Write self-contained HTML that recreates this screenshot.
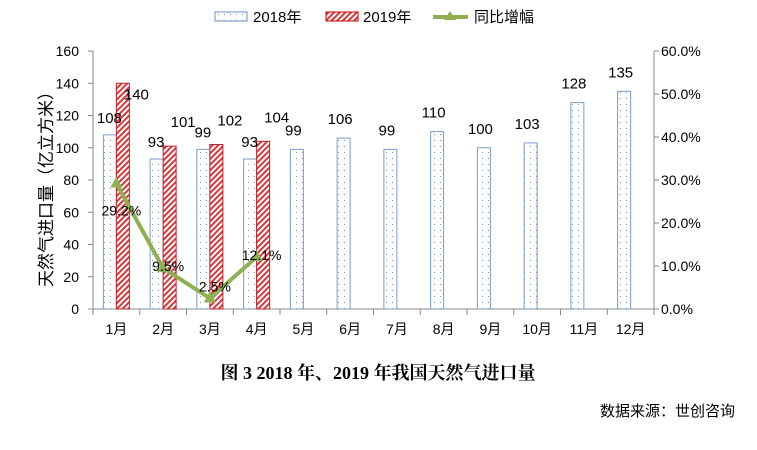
<!DOCTYPE html>
<html><head><meta charset="utf-8"><style>
body{margin:0;background:#fff;}
svg text{font-family:"Liberation Sans","Noto Sans CJK SC",sans-serif;}
</style></head><body>
<svg width="757" height="445" xmlns="http://www.w3.org/2000/svg">
<defs>
<pattern id="dots" width="6" height="6" patternUnits="userSpaceOnUse"><rect width="6" height="6" fill="#fff"/><rect x="2" y="2" width="1" height="1" fill="#7f95b4"/></pattern>
<pattern id="hatch" width="4" height="4" patternUnits="userSpaceOnUse" patternTransform="rotate(45)"><rect width="4" height="4" fill="#fff"/><rect width="2" height="4" fill="#d9383a"/></pattern>
</defs>
<g id="legend">
<rect x="215" y="12" width="32" height="9" fill="url(#dots)" stroke="#6f8fbf"/>
<text x="253" y="22" font-size="15">2018年</text>
<rect x="326" y="12" width="32" height="9" fill="url(#hatch)" stroke="#c00"/>
<text x="363" y="22" font-size="15">2019年</text>
<line x1="433" y1="17" x2="468" y2="17" stroke="#8fb050" stroke-width="4"/>
<polygon points="450,11 456,20 444,20" fill="#8fb050"/>
<text x="474" y="22" font-size="15">同比增幅</text>
</g>
<g id="axes"></g>
<g id="bars"></g>
<g id="line"></g>
<g id="labels"></g>
<text transform="translate(52,185) rotate(-90)" text-anchor="middle" font-size="17">天然气进口量（亿立方米）</text>
<text x="378" y="379" text-anchor="middle" font-size="18" font-weight="bold" style="font-family:'Liberation Serif','Noto Serif CJK SC',serif">图 3 2018 年、2019 年我国天然气进口量</text>
<text x="735" y="416" text-anchor="end" font-size="15">数据来源：世创咨询</text>
</svg>
<script>
const categories=["1月","2月","3月","4月","5月","6月","7月","8月","9月","10月","11月","12月"];
const values2018=[108,93,99,93,99,106,99,110,100,103,128,135];
const values2019=[140,101,102,104];
const growth=[29.2,9.5,2.5,12.1];
const leftTicks=[0,20,40,60,80,100,120,140,160];
const rightTicks=[0,10,20,30,40,50,60];
const NS="http://www.w3.org/2000/svg";
const X0=93,W=561,Y0=309,Y1=51,cw=W/categories.length;
const yL=v=>Y0-(v/160)*(Y0-Y1);
const yR=v=>Y0-(v/60)*(Y0-Y1);
const xC=i=>X0+(i+0.5)*cw;
function mk(tag,attrs,parent,txt){const e=document.createElementNS(NS,tag);for(const k in attrs)e.setAttribute(k,attrs[k]);if(txt!==undefined)e.textContent=txt;document.getElementById(parent).appendChild(e);return e;}
let e;
e=mk("line",{x1:X0,y1:Y1,x2:X0,y2:Y0,stroke:"#888"},"axes");


e=mk("line",{x1:X0+W,y1:Y1,x2:X0+W,y2:Y0,stroke:"#888"},"axes");


e=mk("line",{x1:X0,y1:Y0,x2:X0+W,y2:Y0,stroke:"#888"},"axes");


leftTicks.forEach(v=>{
  mk("line",{x1:X0-5,y1:yL(v),x2:X0,y2:yL(v),stroke:"#888"},"axes");
  e=mk("text",{x:X0-14,y:yL(v)+5,"text-anchor":"end","font-size":"14"},"axes",v);
  
  
});
rightTicks.forEach(v=>{
  mk("line",{x1:X0+W,y1:yR(v),x2:X0+W+5,y2:yR(v),stroke:"#888"},"axes");
  e=mk("text",{x:X0+W+7,y:yR(v)+5,"font-size":"14"},"axes",v.toFixed(1)+"%");
  
  
});
categories.forEach((c,i)=>{
  mk("line",{x1:X0+i*cw,y1:Y0,x2:X0+i*cw,y2:Y0+6,stroke:"#888"},"axes");
  e=mk("text",{x:xC(i),y:Y0+25,"text-anchor":"middle","font-size":"14"},"axes",c);
  
  
});
mk("line",{x1:X0+W,y1:Y0,x2:X0+W,y2:Y0+6,stroke:"#888"},"axes");
const bw=13;
values2018.forEach((v,i)=>{
  e=mk("rect",{x:xC(i)-bw,y:yL(v),width:bw,height:Y0-yL(v),fill:"url(#dots)",stroke:"#7a9cc6"},"bars");
  
  
  e=mk("text",{x:xC(i)+(i<4?-7:-10),y:yL(v)-(i<4?12:14),"text-anchor":"middle","font-size":"15"},"labels",v);
  
  
});
values2019.forEach((v,i)=>{
  e=mk("rect",{x:xC(i),y:yL(v),width:bw,height:Y0-yL(v),fill:"url(#hatch)",stroke:"#c0202a"},"bars");
  
  
  const top=yL(v);
  e=mk("text",{x:xC(i)+20,y:(top-19<70?top+16:top-19),"text-anchor":"middle","font-size":"15"},"labels",v);
  
  
});
e=mk("polyline",{points:growth.map((g,i)=>xC(i)+","+yR(g)).join(" "),fill:"none",stroke:"#8fb050","stroke-width":"4"},"line");


growth.forEach((g,i)=>{
  const x=xC(i),y=yR(g);
  e=mk("polygon",{points:`${x},${y-7} ${x+6},${y+4} ${x-6},${y+4}`,fill:"#8fb050"},"line");
  
  
  const ly=i===0?y+32:(i===2?y-7:y+3);
  e=mk("text",{x:x+5,y:ly,"text-anchor":"middle","font-size":"14"},"labels",g.toFixed(1)+"%");
  
  
});
</script>
</body></html>
